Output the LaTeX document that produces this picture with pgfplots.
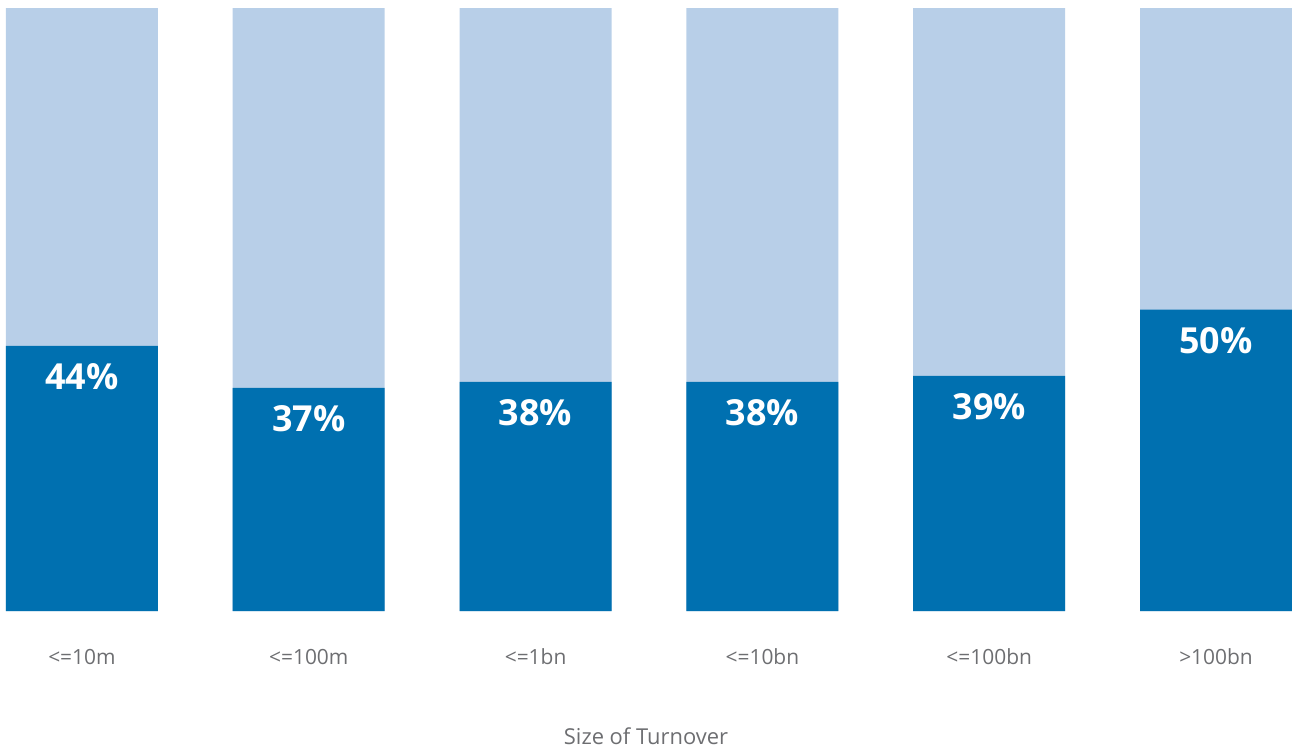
\documentclass[border=0pt]{standalone}
\usepackage{fontspec}
\setmainfont{Open Sans}
\usepackage{pgfplots}
\pgfplotsset{compat=1.18}
\definecolor{darkblue}{HTML}{0070B0}
\definecolor{lightblue}{HTML}{B8CFE8}
\definecolor{labelgray}{HTML}{6D6E71}
\begin{document}
\begin{tikzpicture}
\begin{axis}[
  scale only axis,
  width=1292bp, height=611bp,
  xmin=-0.3612, xmax=5.3348,
  ymin=0, ymax=101.327,
  ybar, bar shift=0pt,
  bar width=152bp,
  axis line style={draw=none},
  hide y axis,
  xtick=data,
  xticklabels={{<=10m},{<=100m},{<=1bn},{<=10bn},{<=100bn},{>100bn}},
  major tick length=0,
  xticklabel style={font=\fontsize{21}{24}\selectfont, text=labelgray, anchor=center, yshift=-46bp},
  xlabel={Size of Turnover},
  every axis x label/.style={at={(axis description cs:0.5,0)}, anchor=center, yshift=-125bp, font=\fontsize{22}{26}\selectfont, text=labelgray},
  clip=false,
]
% total (100%) shown as light bar
\addplot[fill=lightblue, draw=none] coordinates {(0,100) (1,100) (2,100) (3,100) (4,100) (5,100)};
\addplot[fill=darkblue, draw=none,
  nodes near coords={\pgfmathprintnumber[assume math mode=true]{\pgfplotspointmeta}\%},
  every node near coord/.append style={anchor=center, yshift=-31bp, text=white, font=\fontsize{36}{40}\selectfont\bfseries},
] coordinates {(0,44) (1,37) (2,38) (3,38) (4,39) (5,50)};
\path (rel axis cs:0,0) ++(0,-136bp);
\end{axis}
\end{tikzpicture}
\end{document}
